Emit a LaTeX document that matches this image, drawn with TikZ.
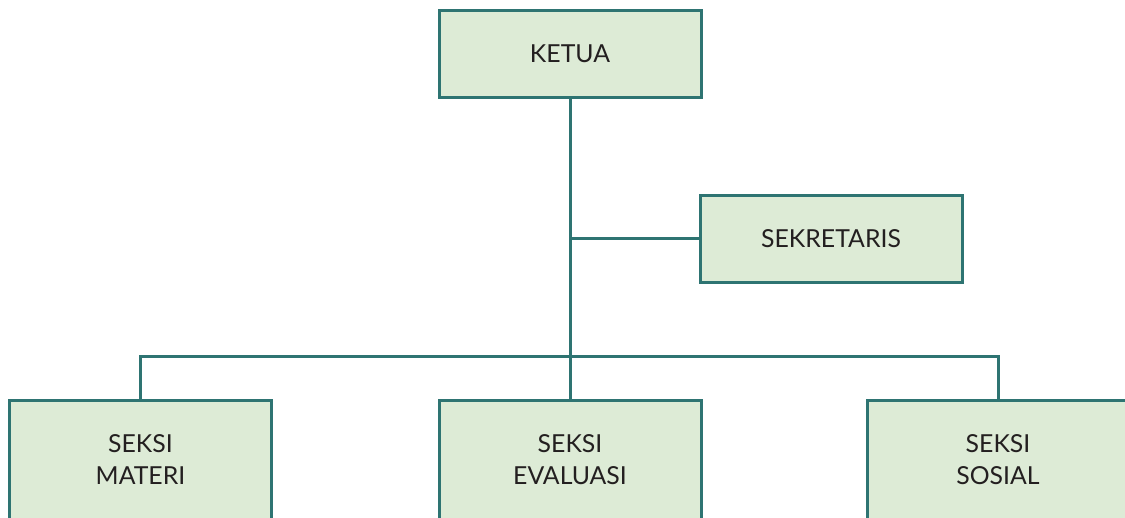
\documentclass[tikz,border=0pt]{standalone}
\usepackage{fontspec}
\setmainfont{Lato}
\definecolor{edge}{HTML}{2E7472}
\definecolor{boxfill}{HTML}{DDEBD6}
\definecolor{txt}{HTML}{231F20}
\begin{document}
\begin{tikzpicture}[x=1pt,y=-1pt,
  orgbox/.style={draw=edge,fill=boxfill,line width=3pt,minimum width=262pt,
    minimum height=87pt,inner sep=0pt,outer sep=0pt,align=center,text=txt,
    font=\fontsize{24.8}{32}\selectfont},
  tallbox/.style={orgbox,minimum height=120pt},
  link/.style={draw=edge,line width=3pt}]
\useasboundingbox (0,0) rectangle (1125,517);
\clip (0,0) rectangle (1125,517);
\node[orgbox] (ketua) at (570,53.5) {KETUA};
\node[orgbox] (sek) at (831,238.5) {SEKRETARIS};
\node[tallbox] (materi) at (140.5,460) {SEKSI\\MATERI};
\node[tallbox] (eval) at (570,460) {SEKSI\\EVALUASI};
\node[tallbox] (sosial) at (998,460) {SEKSI\\SOSIAL};
\coordinate (bar) at (570,356);
\draw[link] (ketua.south) -- (eval.north);
\draw[link] (sek.west) -- (ketua.south |- sek.west);
\draw[link] (materi.north) |- (bar) -| (sosial.north);
\end{tikzpicture}
\end{document}
